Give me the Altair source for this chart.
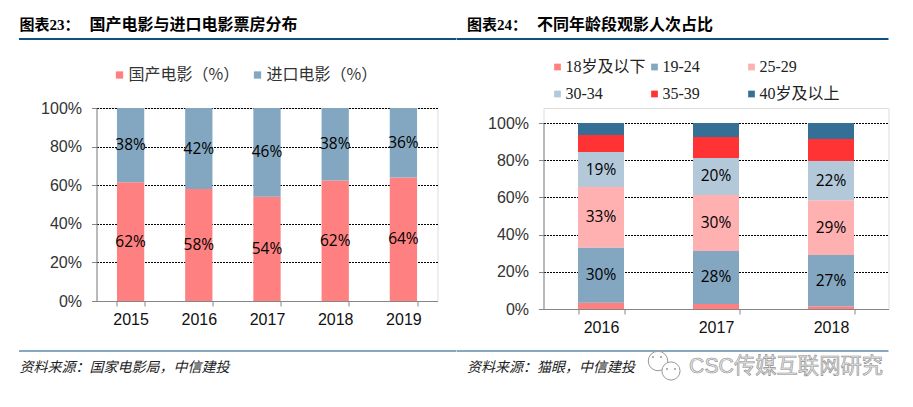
import altair as alt
import pandas as pd

CJK = "Noto Sans CJK SC"
HEAD_FONT = "Liberation Serif, Noto Sans CJK SC"
AXIS_FONT = "Liberation Sans"
LEG2_FONT = "Liberation Serif, Noto Sans CJK SC"
RULE = "#0f5082"

years_a = ["2015", "2016", "2017", "2018", "2019"]
series_a = ["国产电影（%）", "进口电影（%）"]
colors_a = ["#ff8080", "#83a7c0"]
domestic = [61.5, 58.0, 54.0, 62.5, 64.0]
imported = [38.5, 42.0, 46.0, 37.5, 36.0]
labels_domestic = ["62%", "58%", "54%", "62%", "64%"]
labels_imported = ["38%", "42%", "46%", "38%", "36%"]

years_b = ["2016", "2017", "2018"]
series_b = ["18岁及以下", "19-24", "25-29", "30-34", "35-39", "40岁及以上"]
colors_b = ["#ff8080", "#83a7c0", "#ffb0b0", "#b3c9d9", "#ff3333", "#366f96"]
age_18 = [3.3, 2.7, 1.5]
age_19 = [29.7, 28.5, 27.5]
age_25 = [32.6, 30.1, 29.5]
age_30 = [18.8, 19.9, 21.1]
age_35 = [9.1, 11.3, 11.8]
age_40 = [6.5, 7.5, 8.6]
labels_19 = ["30%", "28%", "27%"]
labels_25 = ["33%", "30%", "29%"]
labels_30 = ["19%", "20%", "22%"]
y_ticks = [0, 20, 40, 60, 80, 100]


def frames(cats, names, columns, label_map):
    bars, texts = [], []
    for c_i, cat in enumerate(cats):
        base = 0
        for s_i, name in enumerate(names):
            v = columns[s_i][c_i]
            bars.append({"cat": cat, "series": name, "value": v, "idx": s_i})
            if s_i in label_map:
                texts.append({"cat": cat, "mid": base + v / 2, "label": label_map[s_i][c_i]})
            base += v
    return pd.DataFrame(bars), pd.DataFrame(texts)


def txt(s, x, y, size, font=CJK, color="#000000", **kw):
    return alt.Chart(pd.DataFrame({"t": [s]})).mark_text(
        align="left", baseline="middle", fontSize=size, font=font, color=color, **kw
    ).encode(text="t:N", x=alt.value(x), y=alt.value(y))


def hline(x1, x2, y, w):
    return alt.Chart(pd.DataFrame({"a": [0]})).mark_rule(color=RULE, strokeWidth=w, clip=False).encode(
        x=alt.value(x1), x2=alt.value(x2), y=alt.value(y)
    )


def panel(cats, names, cols, columns, label_map, yrange, legend):
    bars, texts = frames(cats, names, columns, label_map)
    x = alt.X("cat:N", sort=cats, title=None,
              scale=alt.Scale(paddingInner=0.6, paddingOuter=0.3),
              axis=alt.Axis(labelAngle=0, tickBand="extent", domainColor="#868686", tickColor="#868686",
                            tickSize=5, labelFont=AXIS_FONT, labelFontSize=16, labelColor="#111111",
                            labelPadding=5, grid=False))
    y_axis = alt.Axis(values=y_ticks, tickCount=6, labelExpr="datum.value + '%'", title=None,
                      domainColor="#868686", tickColor="#868686", tickSize=5, labelFont=AXIS_FONT,
                      labelFontSize=16, labelColor="#333333", labelPadding=10, grid=True,
                      labelOverlap=False, gridColor="#000000", gridDash=[2, 1], gridWidth=1, gridOpacity=1)
    bar = alt.Chart(bars).mark_bar().encode(
        x=x,
        y=alt.Y("value:Q", stack="zero", axis=y_axis,
                scale=alt.Scale(domain=[0, 100], nice=False, range=yrange)),
        color=alt.Color("series:N", scale=alt.Scale(domain=names, range=cols), legend=legend),
        order=alt.Order("idx:Q"),
    )
    lab = alt.Chart(texts).mark_text(font="Open Sans, Liberation Sans", fontSize=15.5, color="#000000",
                                     baseline="middle").encode(
        x=alt.X("cat:N", sort=cats), y=alt.Y("mid:Q"), text="label:N"
    )
    return bar, lab


legend_a = alt.Legend(orient="none", legendX=15, legendY=-41, direction="horizontal", title=None,
                      symbolType="square", symbolSize=53, symbolStrokeWidth=0, labelFont=CJK,
                      labelFontSize=16, labelColor="#333333", columnPadding=10, labelOffset=1,
                      labelLimit=200)
bar_a, lab_a = panel(years_a, series_a, colors_a, [domestic, imported],
                     {0: labels_domestic, 1: labels_imported}, [193, 0], legend_a)

legend_b = alt.Legend(orient="none", legendX=6, legendY=-49, direction="horizontal", columns=3, title=None,
                      symbolType="square", symbolSize=45, symbolStrokeWidth=0, labelFont=LEG2_FONT,
                      labelFontSize=16, labelColor="#222222", columnPadding=-5, rowPadding=11, labelOffset=0,
                      gridAlign="all", labelLimit=200)
bar_b, lab_b = panel(years_b, series_b, colors_b, [age_18, age_19, age_25, age_30, age_35, age_40],
                     {1: labels_19, 2: labels_25, 3: labels_30}, [201, 15], legend_b)

left = alt.layer(
    bar_a, lab_a,
    txt("图表23：", -77, -83, 15, HEAD_FONT, fontWeight="bold"),
    txt("国产电影与进口电影票房分布", -7, -83, 16, HEAD_FONT, fontWeight="bold"),
    hline(-77.5, 359.5, -69, 2),
    hline(-77.5, 359.5, 243, 1),
    txt("资料来源：国家电影局，中信建投", -77, 260, 14, CJK, "#222222", fontStyle="italic"),
).properties(width=341, height=193)

bubble = lambda x, y, s: alt.Chart(pd.DataFrame({"a": [0]})).mark_point(
    shape="circle", size=s, filled=True, fill="#ffffff", stroke="#999999", strokeWidth=1, opacity=1, clip=False
).encode(x=alt.value(x), y=alt.value(y))
dot = lambda x, y: alt.Chart(pd.DataFrame({"a": [0]})).mark_point(
    shape="circle", size=4, filled=True, color="#999999", opacity=1, clip=False
).encode(x=alt.value(x), y=alt.value(y))

wx = 114.5
right = alt.layer(
    bar_b, lab_b,
    txt("图表24：", -76.5, -83, 15, HEAD_FONT, fontWeight="bold"),
    txt("不同年龄段观影人次占比", -6.5, -83, 16, HEAD_FONT, fontWeight="bold"),
    hline(-87, 345, -69, 2),
    hline(-87, 345, 243, 1),
    txt("资料来源：猫眼，中信建投", -76.5, 260, 14, CJK, "#222222", fontStyle="italic"),
    bubble(wx, 253, 380), bubble(wx + 13, 263, 330),
    dot(wx - 5, 249), dot(wx + 3, 249), dot(wx + 9, 261), dot(wx + 17, 261),
    txt("CSC传媒互联网研究", 145.5, 259, 21.3, "Liberation Sans, Noto Sans CJK SC", "#e8e8e8",
        stroke="#8c8c8c", strokeWidth=0.6),
).properties(width=345, height=201)

chart = alt.hconcat(left, right, spacing=106, bounds="flush",
                    padding={"left": 9.5, "top": 8, "right": 0, "bottom": 0}
                    ).resolve_scale(color="independent"
                    ).configure_view(stroke=None).configure(background="#ffffff")
chart.save("out.html", embed_options={"renderer": "svg", "actions": False})
